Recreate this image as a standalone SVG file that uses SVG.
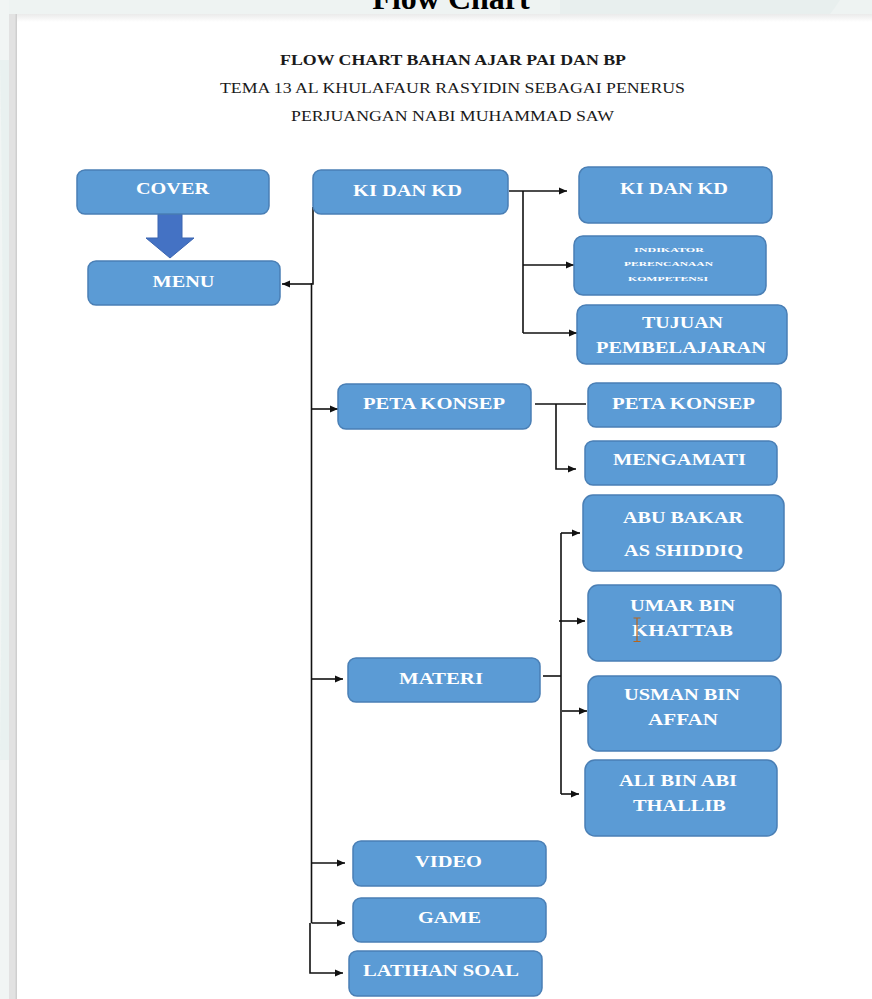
<svg xmlns="http://www.w3.org/2000/svg" width="872" height="999" viewBox="0 0 872 999">
<defs>
<style>
.box{fill:#5b9bd5;stroke:#4a7fb5;stroke-width:1.5}
.t{font-family:"Liberation Serif","Times New Roman",serif;font-weight:bold;font-size:17px;fill:#ffffff;text-anchor:middle}
.ts{font-family:"Liberation Serif","Times New Roman",serif;font-weight:bold;font-size:7px;fill:#ffffff;text-anchor:middle}
.h{font-family:"Liberation Serif","Times New Roman",serif;font-size:14px;fill:#1a1a1a;text-anchor:middle}
.c{fill:none;stroke:#111111;stroke-width:1.6}
</style>
<marker id="ah" markerUnits="userSpaceOnUse" markerWidth="9" markerHeight="8" refX="8" refY="4" orient="auto">
<path d="M0,0.5 L8,4 L0,7.5 z" fill="#111111"/>
</marker>
<linearGradient id="shadow" x1="0" y1="0" x2="0" y2="1">
<stop offset="0" stop-color="#dcdcdc"/>
<stop offset="1" stop-color="#ffffff"/>
</linearGradient>
</defs>
<rect x="0" y="0" width="872" height="999" fill="#ffffff"/>
<rect x="0" y="0" width="872" height="14" fill="#eef3f2"/>
<rect x="0" y="0" width="9" height="999" fill="#f1f5f4"/>
<path d="M0,60 Q5,300 0,760 L9,760 L9,60 z" fill="#e6efee" opacity="0.7"/>
<path d="M560,0 L840,0 Q835,8 830,14 L560,14 z" fill="#e8efee"/>
<rect x="9" y="14" width="8" height="985" fill="#e2e2e2"/>
<rect x="15.5" y="14" width="1.5" height="985" fill="#cfcfcf"/>
<rect x="17" y="14" width="855" height="8" fill="url(#shadow)" opacity="0.6"/>
<text x="451" y="9" style="font-family:'Liberation Serif','Times New Roman',serif;font-weight:bold;font-size:32px;fill:#000000;text-anchor:middle">Flow Chart</text>

<g id="header">
<text class="h" x="453" y="65" font-weight="bold" textLength="346" lengthAdjust="spacingAndGlyphs">FLOW CHART BAHAN AJAR PAI DAN BP</text>
<text class="h" x="452.5" y="93" textLength="465" lengthAdjust="spacingAndGlyphs">TEMA 13 AL KHULAFAUR RASYIDIN SEBAGAI PENERUS</text>
<text class="h" x="452.5" y="121" textLength="323" lengthAdjust="spacingAndGlyphs">PERJUANGAN NABI MUHAMMAD SAW</text>
</g>

<g id="connectors">
<path class="c" d="M313,207 L313,284 L311.5,284 L311.5,923"/>
<path class="c" d="M312,284 L282,284" marker-end="url(#ah)"/>
<path class="c" d="M509,191 L567,191" marker-end="url(#ah)"/>
<path class="c" d="M523,191 L523,333"/>
<path class="c" d="M523,265 L574,265" marker-end="url(#ah)"/>
<path class="c" d="M523,333 L577,333" marker-end="url(#ah)"/>
<path class="c" d="M311.5,409 L338,409" marker-end="url(#ah)"/>
<path class="c" d="M535,404 L586,404"/>
<path class="c" d="M556,404 L556,469 L576,469" marker-end="url(#ah)"/>
<path class="c" d="M311.5,679 L343,679" marker-end="url(#ah)"/>
<path class="c" d="M543,676 L561,676"/>
<path class="c" d="M561,533 L561,794"/>
<path class="c" d="M561,533 L580,533" marker-end="url(#ah)"/>
<path class="c" d="M559,621 L585,621" marker-end="url(#ah)"/>
<path class="c" d="M562,711 L587,711" marker-end="url(#ah)"/>
<path class="c" d="M561,794 L579,794" marker-end="url(#ah)"/>
<path class="c" d="M311.5,863 L345,863" marker-end="url(#ah)"/>
<path class="c" d="M311.5,923 L345,923" marker-end="url(#ah)"/>
<path class="c" d="M310,923 L310,973 L343,973" marker-end="url(#ah)"/>
</g>

<g id="arrow-cover-menu">
<path d="M158,214 L182,214 L182,238 L194,238 L170,258 L146,238 L158,238 z" fill="#4472c4" stroke="#3a64b0" stroke-width="1"/>
</g>

<g id="cover">
<rect class="box" x="77" y="170" width="192" height="44" rx="8"/>
<text class="t" x="172.5" y="194" textLength="73" lengthAdjust="spacingAndGlyphs">COVER</text>
</g>
<g id="menu">
<rect class="box" x="88" y="261" width="192" height="44" rx="8"/>
<text class="t" x="183.5" y="287" textLength="62" lengthAdjust="spacingAndGlyphs">MENU</text>
</g>
<g id="ki-dan-kd">
<rect class="box" x="313" y="170" width="195" height="44" rx="8"/>
<text class="t" x="407.5" y="196" textLength="109" lengthAdjust="spacingAndGlyphs">KI DAN KD</text>
</g>
<g id="ki-dan-kd-2">
<rect class="box" x="579" y="167" width="193" height="56" rx="9"/>
<text class="t" x="674" y="194" textLength="108" lengthAdjust="spacingAndGlyphs">KI DAN KD</text>
</g>
<g id="indikator">
<rect class="box" x="574" y="236" width="192" height="59" rx="9"/>
<text class="ts" x="669" y="252" textLength="70" lengthAdjust="spacingAndGlyphs">INDIKATOR</text>
<text class="ts" x="668.5" y="266" textLength="89" lengthAdjust="spacingAndGlyphs">PERENCANAAN</text>
<text class="ts" x="668" y="281" textLength="80" lengthAdjust="spacingAndGlyphs">KOMPETENSI</text>
</g>
<g id="tujuan">
<rect class="box" x="577" y="305" width="210" height="59" rx="9"/>
<text class="t" x="682.5" y="328" textLength="81" lengthAdjust="spacingAndGlyphs">TUJUAN</text>
<text class="t" x="681" y="353" textLength="170" lengthAdjust="spacingAndGlyphs">PEMBELAJARAN</text>
</g>
<g id="peta-konsep">
<rect class="box" x="338" y="384" width="193" height="45" rx="8"/>
<text class="t" x="434" y="409" textLength="142" lengthAdjust="spacingAndGlyphs">PETA KONSEP</text>
</g>
<g id="peta-konsep-2">
<rect class="box" x="588" y="383" width="193" height="44" rx="8"/>
<text class="t" x="683.5" y="409" textLength="143" lengthAdjust="spacingAndGlyphs">PETA KONSEP</text>
</g>
<g id="mengamati">
<rect class="box" x="585" y="441" width="192" height="44" rx="8"/>
<text class="t" x="679.5" y="465" textLength="133" lengthAdjust="spacingAndGlyphs">MENGAMATI</text>
</g>
<g id="materi">
<rect class="box" x="348" y="658" width="192" height="44" rx="8"/>
<text class="t" x="441" y="684" textLength="84" lengthAdjust="spacingAndGlyphs">MATERI</text>
</g>
<g id="abu-bakar">
<rect class="box" x="583" y="495" width="201" height="76" rx="10"/>
<text class="t" x="683" y="523" textLength="120" lengthAdjust="spacingAndGlyphs">ABU BAKAR</text>
<text class="t" x="683.5" y="556" textLength="119" lengthAdjust="spacingAndGlyphs">AS SHIDDIQ</text>
</g>
<g id="umar">
<rect class="box" x="588" y="585" width="193" height="76" rx="10"/>
<text class="t" x="682.5" y="611" textLength="105" lengthAdjust="spacingAndGlyphs">UMAR BIN</text>
<text class="t" x="682.5" y="636" textLength="101" lengthAdjust="spacingAndGlyphs">KHATTAB</text>
<path d="M633.5,618 L640.5,618 M637,618 L637,641.5 M633.5,641.5 L640.5,641.5" fill="none" stroke="#b5651d" stroke-width="1.2"/>
</g>
<g id="usman">
<rect class="box" x="588" y="676" width="193" height="75" rx="10"/>
<text class="t" x="682" y="700" textLength="116" lengthAdjust="spacingAndGlyphs">USMAN BIN</text>
<text class="t" x="683" y="725" textLength="70" lengthAdjust="spacingAndGlyphs">AFFAN</text>
</g>
<g id="ali">
<rect class="box" x="585" y="760" width="192" height="76" rx="10"/>
<text class="t" x="678" y="786" textLength="118" lengthAdjust="spacingAndGlyphs">ALI BIN ABI</text>
<text class="t" x="679.5" y="811" textLength="93" lengthAdjust="spacingAndGlyphs">THALLIB</text>
</g>
<g id="video">
<rect class="box" x="353" y="841" width="193" height="45" rx="8"/>
<text class="t" x="448.5" y="867" textLength="67" lengthAdjust="spacingAndGlyphs">VIDEO</text>
</g>
<g id="game">
<rect class="box" x="353" y="898" width="193" height="44" rx="8"/>
<text class="t" x="449.5" y="923" textLength="63" lengthAdjust="spacingAndGlyphs">GAME</text>
</g>
<g id="latihan-soal">
<rect class="box" x="349" y="951" width="193" height="45" rx="8"/>
<text class="t" x="441" y="976" textLength="156" lengthAdjust="spacingAndGlyphs">LATIHAN SOAL</text>
</g>
</svg>
